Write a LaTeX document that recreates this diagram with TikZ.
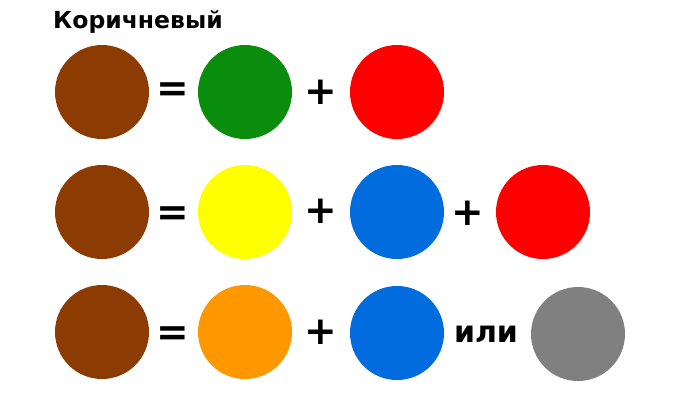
\documentclass[tikz,border=0pt]{standalone}
\usepackage{fontspec}
\setmainfont{DejaVu Sans}
\definecolor{brownc}{RGB}{140,60,2}
\definecolor{greenc}{RGB}{10,140,12}
\definecolor{redc}{RGB}{255,0,0}
\definecolor{yellowc}{RGB}{255,255,0}
\definecolor{bluec}{RGB}{0,108,222}
\definecolor{orangec}{RGB}{255,152,0}
\definecolor{grayc}{RGB}{128,128,128}

\begin{document}
\begin{tikzpicture}[x=1pt,y=-1pt,
		paint/.style={circle,minimum size=94pt,inner sep=0pt},
		sign/.style={inner sep=0pt,font=\bfseries\fontsize{39}{39}\selectfont}]
		\useasboundingbox (0,0) rectangle (692,400);
		\node[anchor=base west,inner sep=0pt,font=\bfseries\fontsize{23.5}{23.5}\selectfont] (title) at (53,28) {Коричневый};
		% first row
		\node[paint,fill=brownc] (brownA) at (102,92) {};
		\node[sign] (eqA) at (173,92) {=};
		\node[paint,fill=greenc] (green) at (245,92) {};
		\node[sign] (plusA) at (321,92) {+};
		\node[paint,fill=redc] (redA) at (397,92) {};
		% second row
		\node[paint,fill=brownc] (brownB) at (102,212) {};
		\node[sign] (eqB) at (173,216) {=};
		\node[paint,fill=yellowc] (yellow) at (245,212) {};
		\node[sign] (plusB) at (321,211) {+};
		\node[paint,fill=bluec] (blueB) at (397,212) {};
		\node[sign] (plusC) at (468,213) {+};
		\node[paint,fill=redc] (redB) at (543,212) {};
		% third row
		\node[paint,fill=brownc] (brownC) at (102,332) {};
		\node[sign] (eqC) at (173,336) {=};
		\node[paint,fill=orangec] (orange) at (245,332) {};
		\node[sign] (plusD) at (321,332) {+};
		\node[paint,fill=bluec] (blueC) at (397,333) {};
		\node[anchor=base,inner sep=0pt,font=\bfseries\fontsize{30}{30}\selectfont] (ili) at (486,342) {или};
		\node[paint,fill=grayc] (gray) at (578,334) {};
	\end{tikzpicture}
\end{document}
